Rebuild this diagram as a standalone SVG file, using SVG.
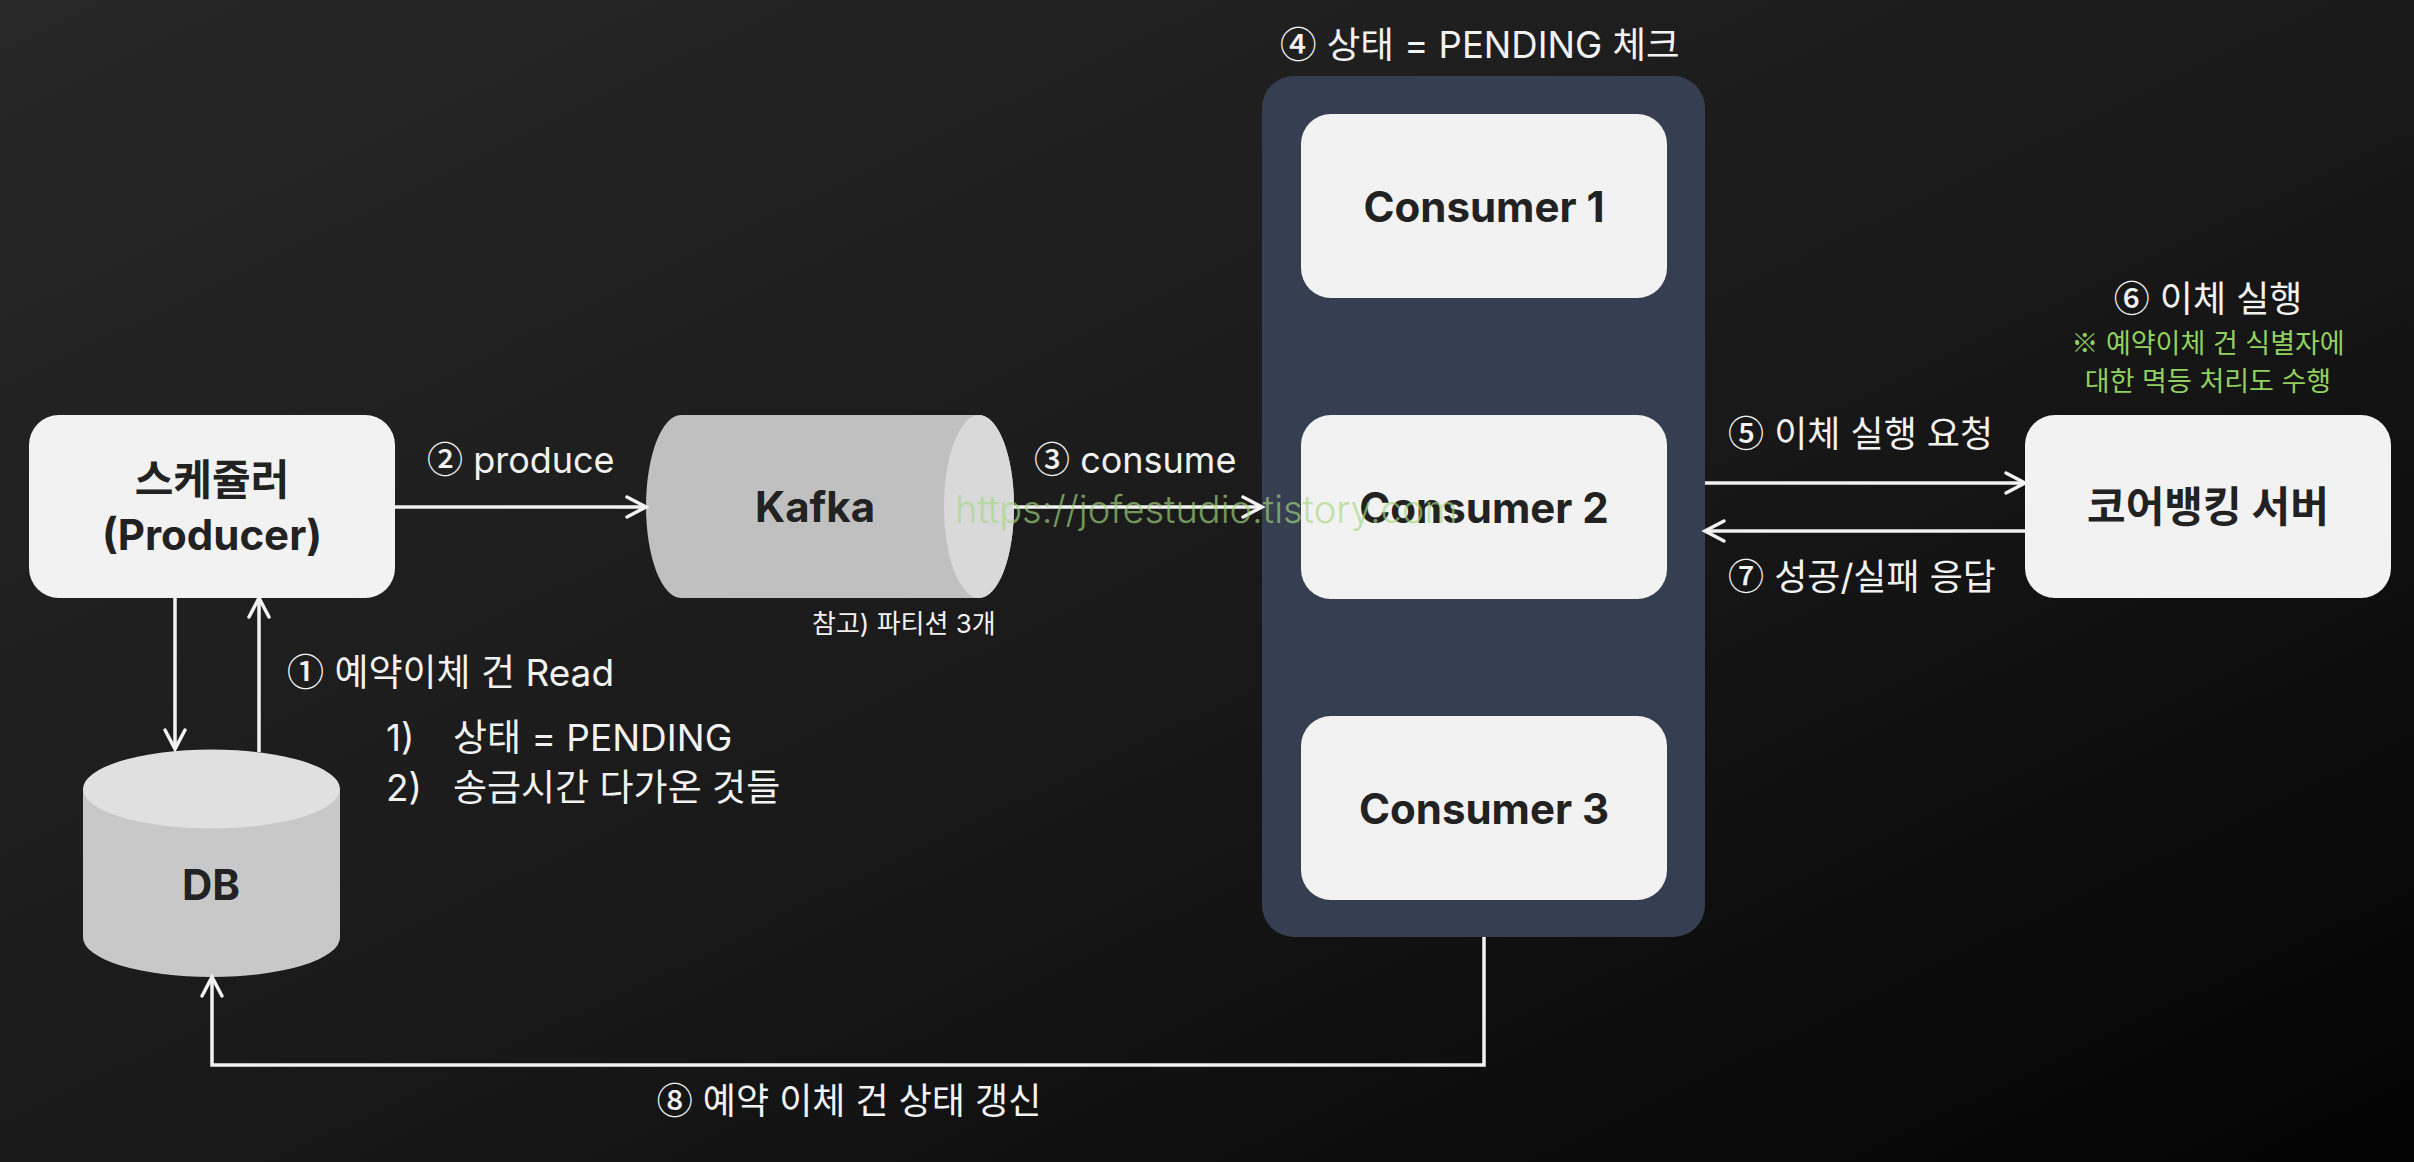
<svg xmlns="http://www.w3.org/2000/svg" width="2414" height="1162" viewBox="0 0 2414 1162">
<defs>
<linearGradient id="bg" x1="0" y1="0" x2="1" y2="1">
<stop offset="0" stop-color="#272727"/>
<stop offset="0.5" stop-color="#1a1a1a"/>
<stop offset="1" stop-color="#030303"/>
</linearGradient>
<marker id="arr" markerUnits="userSpaceOnUse" viewBox="-24 -14 28 28" markerWidth="28" markerHeight="28" refX="0" refY="0" orient="auto" overflow="visible">
<path d="M-19,-10 L0,0 L-19,10" fill="none" stroke="#f2f2f2" stroke-width="3.5" stroke-linecap="round" stroke-linejoin="miter"/>
</marker>
<style>
.box{fill:#f2f2f2}
.title{font-family:Inter,"Noto Sans CJK KR",sans-serif;font-weight:700;font-size:42px;fill:#222222;text-anchor:middle}
.lbl{font-family:Inter,"Noto Sans CJK KR",sans-serif;font-size:36px;fill:#f2f2f2}
.list{font-size:37px}
.small{font-family:Inter,"Noto Sans CJK KR",sans-serif;font-size:26px;fill:#f2f2f2}
.green{font-family:Inter,"Noto Sans CJK KR",sans-serif;font-size:27px;fill:#92d05f;text-anchor:middle}
.cd{font-family:"Noto Sans CJK KR",sans-serif;font-weight:500}
.conn{fill:none;stroke:#f2f2f2;stroke-width:3.5}
.wm{font-family:Inter,"Noto Sans CJK KR",sans-serif;font-weight:300;font-size:38px;fill:#a3d87f;opacity:0.65}
</style>
</defs>
<rect width="2414" height="1162" fill="url(#bg)"/>

<g id="producer">
<rect class="box" x="29" y="415" width="366" height="183" rx="30"/>
<text class="title" x="212" y="495">스케쥴러</text>
<text class="title" x="212" y="550">(Producer)</text>
</g>

<g id="kafka">
<path d="M681,415 L979,415 A35,91.5 0 0 1 979,598 L681,598 A35,91.5 0 0 1 681,415 Z" fill="#c0c0c0"/>
<ellipse cx="979" cy="506.5" rx="35" ry="91.5" fill="#d9d9d9"/>
<text class="title" x="815" y="522">Kafka</text>
<text class="small" x="812" y="633">참고) 파티션 3개</text>
</g>

<g id="db">
<path d="M83,789 L83,937.5 A128.5,39.5 0 0 0 340,937.5 L340,789 Z" fill="#c8c8c8"/>
<ellipse cx="211.5" cy="789" rx="128.5" ry="39.5" fill="#e0e0e0"/>
<text class="title" x="211" y="900">DB</text>
</g>

<g id="consumer-group">
<rect x="1262" y="76" width="443" height="861" rx="32" fill="#363f51"/>
<text class="lbl" x="1280" y="58" style="font-size:36.5px"><tspan class="cd">④</tspan> 상태 = PENDING 체크</text>
</g>

<g id="consumer1">
<rect class="box" x="1301" y="114" width="366" height="184" rx="30"/>
<text class="title" x="1484" y="222">Consumer 1</text>
</g>
<g id="consumer2">
<rect class="box" x="1301" y="415" width="366" height="184" rx="30"/>
<text class="title" x="1484" y="523">Consumer 2</text>
</g>
<g id="consumer3">
<rect class="box" x="1301" y="716" width="366" height="184" rx="30"/>
<text class="title" x="1484" y="824">Consumer 3</text>
</g>

<g id="corebanking">
<rect class="box" x="2025" y="415" width="366" height="183" rx="30"/>
<text class="title" x="2208" y="522">코어뱅킹 서버</text>
<text class="lbl" x="2208" y="312" text-anchor="middle"><tspan class="cd">⑥</tspan> 이체 실행</text>
<text class="green" x="2208" y="353"><tspan class="cd">※</tspan> 예약이체 건 식별자에</text>
<text class="green" x="2208" y="391">대한 멱등 처리도 수행</text>
</g>

<g id="connectors">
<path class="conn" d="M395,507 L646,507" marker-end="url(#arr)"/>
<path class="conn" d="M1013,507 L1262,507" marker-end="url(#arr)"/>
<path class="conn" d="M175,598 L175,749" marker-end="url(#arr)"/>
<path class="conn" d="M259,752 L259,598" marker-end="url(#arr)"/>
<path class="conn" d="M1705,483 L2025,483" marker-end="url(#arr)"/>
<path class="conn" d="M2025,531 L1705,531" marker-end="url(#arr)"/>
<path class="conn" d="M1484,937 L1484,1065 L212,1065 L212,977" marker-end="url(#arr)"/>
<text class="lbl" x="427" y="473"><tspan class="cd">②</tspan> produce</text>
<text class="lbl" x="1034" y="473"><tspan class="cd">③</tspan> consume</text>
<text class="lbl list" x="287" y="686"><tspan class="cd">①</tspan> 예약이체 건 Read</text>
<text class="lbl list" x="386" y="751">1)</text>
<text class="lbl list" x="453" y="751">상태 = PENDING</text>
<text class="lbl list" x="386" y="801">2)</text>
<text class="lbl list" x="453" y="801">송금시간 다가온 것들</text>
<text class="lbl" x="1728" y="447"><tspan class="cd">⑤</tspan> 이체 실행 요청</text>
<text class="lbl" x="1728" y="590"><tspan class="cd">⑦</tspan> 성공/실패 응답</text>
<text class="lbl" x="849" y="1114" text-anchor="middle"><tspan class="cd">⑧</tspan> 예약 이체 건 상태 갱신</text>
</g>

<text class="wm" x="955" y="523">https://jofestudio.tistory.com</text>
</svg>
